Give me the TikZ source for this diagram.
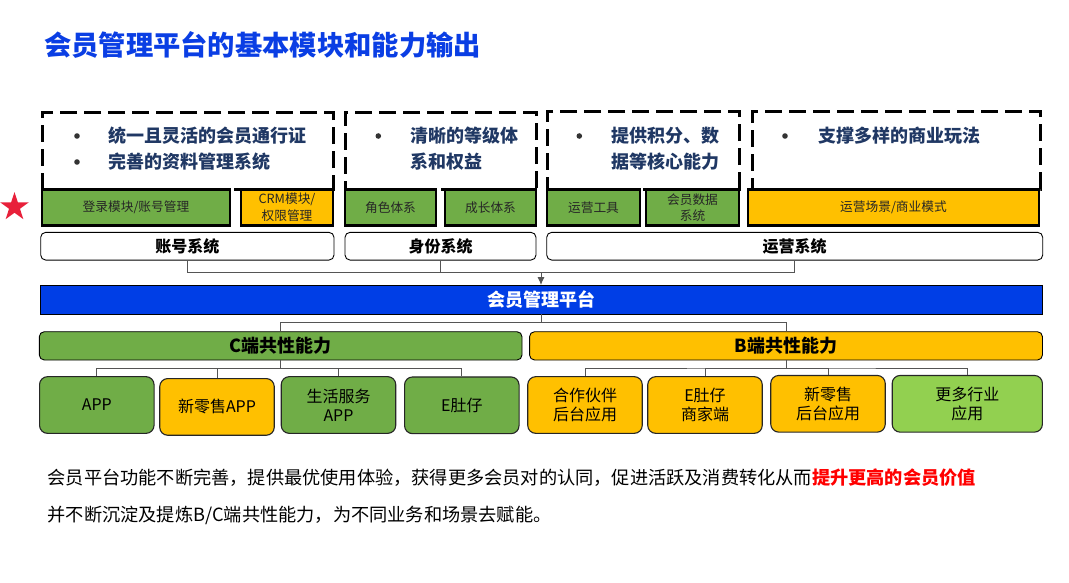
\documentclass[tikz,border=0pt]{standalone}
\usepackage{fontspec}
\setmainfont{Noto Sans CJK SC}
\usetikzlibrary{shapes.geometric,arrows.meta}
\definecolor{tblue}{RGB}{10,62,228}
\definecolor{pblue}{RGB}{0,62,230}
\definecolor{navy}{RGB}{32,56,100}
\definecolor{mgreen}{RGB}{112,173,71}
\definecolor{morange}{RGB}{255,192,0}
\definecolor{lgreen}{RGB}{146,208,80}
\definecolor{starred}{RGB}{232,32,58}
\definecolor{conn}{RGB}{85,85,85}
\tikzset{
 dashbox/.style={draw=black, line width=3pt, dash pattern=on 17pt off 7pt, inner sep=0},
 bultext/.style={anchor=west, inner sep=0, align=left, text=navy, font=\fontsize{18}{26}\selectfont\bfseries},
 bul/.style={fill=black!80},
 modbox/.style={draw=black, line width=2.5pt, inner sep=0, align=center, text=black!85, minimum height=36pt, font=\fontsize{12.7}{16.5}\selectfont},
 sysbox/.style={draw=black, line width=0.9pt, rounded corners=5pt, fill=white, inner sep=0, minimum height=27.7pt, font=\fontsize{16}{19}\selectfont\bfseries},
 platbox/.style={draw=black, line width=0.9pt, fill=pblue, inner sep=0, text=white, minimum height=28.5pt, font=\fontsize{18}{21}\selectfont\bfseries},
 capbox/.style={draw=black, line width=0.9pt, rounded corners=5pt, inner sep=0, minimum height=28.3pt, font=\fontsize{18}{21}\selectfont\bfseries},
 appbox/.style={draw=black!85, line width=1.1pt, rounded corners=8pt, inner sep=0, align=center, minimum width=114.5pt, minimum height=56.7pt, font=\fontsize{16}{19}\selectfont},
 conline/.style={draw=conn, line width=1pt},
 plain/.style={anchor=west, inner sep=0, font=\fontsize{18.2}{22}\selectfont}
}
\begin{document}
\begin{tikzpicture}[x=1pt,y=-1pt]
\useasboundingbox (0,0) rectangle (1069,582);
\fill[white] (0,0) rectangle (1069,582);

% title
\node[anchor=west, inner sep=0, text=tblue, font=\fontsize{27.3}{30}\selectfont\bfseries] (title) at (44,45) {会员管理平台的基本模块和能力输出};

% dashed boxes
\node[dashbox, minimum width=291pt, minimum height=77pt] (d1) at (187.5,150.5) {};
\node[dashbox, minimum width=191pt, minimum height=77pt] (d2) at (440.5,150.5) {};
\node[dashbox, minimum width=192pt, minimum height=78pt] (d3) at (643,150) {};
\node[dashbox, minimum width=288pt, minimum height=77.5pt] (d4) at (896,150.25) {};

\fill[bul] (77,136) circle (2.8pt);
\fill[bul] (77,162) circle (2.8pt);
\node[bultext] (t1) at (108,149) {统一且灵活的会员通行证\\完善的资料管理系统};
\fill[bul] (378.3,136) circle (2.8pt);
\node[bultext] (t2) at (410.7,149) {清晰的等级体\\系和权益};
\fill[bul] (579.3,136) circle (2.8pt);
\node[bultext] (t3) at (611.7,149) {提供积分、数\\据等核心能力};
\fill[bul] (785,136) circle (2.8pt);
\node[bultext] (t4) at (818.3,136) {支撑多样的商业玩法};

% star
\node[star, star points=5, star point ratio=2.618, fill=starred, minimum size=30pt, inner sep=0] (star) at (14.5,207) {};

% modules
\node[modbox, fill=mgreen, minimum width=188pt] (m1) at (136,207.4) {登录模块/账号管理};
\node[modbox, fill=morange, minimum width=92pt] (m2) at (287,207.4) {CRM模块/\\权限管理};
\node[modbox, fill=mgreen, minimum width=91pt] (m3) at (390.5,207.4) {角色体系};
\node[modbox, fill=mgreen, minimum width=91pt] (m4) at (490.5,207.4) {成长体系};
\node[modbox, fill=mgreen, minimum width=93pt] (m5) at (593.5,207.4) {运营工具};
\node[modbox, fill=mgreen, minimum width=93pt] (m6) at (692.5,207.4) {会员数据\\系统};
\node[modbox, fill=morange, minimum width=291pt] (m7) at (893.5,207.4) {运营场景/商业模式};

% systems
\node[sysbox, minimum width=293.3pt] (s1) at (187.35,246.2) {账号系统};
\node[sysbox, minimum width=191pt] (s2) at (440.5,246.2) {身份系统};
\node[sysbox, minimum width=496pt] (s3) at (794.7,246.2) {运营系统};

% platform
\node[platbox, minimum width=1002pt] (plat) at (541,299.75) {会员管理平台};

% capability bars
\node[capbox, fill=mgreen, minimum width=482.7pt] (cbar) at (280.65,345.85) {C端共性能力};
\node[capbox, fill=morange, minimum width=512.9pt] (bbar) at (786,345.85) {B端共性能力};

% application boxes
\node[appbox, fill=mgreen] (c1) at (96.8,405) {APP};
\node[appbox, fill=morange] (c2) at (217,406.9) {新零售APP};
\node[appbox, fill=mgreen] (c3) at (338.5,405) {生活服务\\APP};
\node[appbox, fill=mgreen] (c4) at (461.8,405.3) {E肚仔};
\node[appbox, fill=morange] (b1) at (585,405) {合作伙伴\\后台应用};
\node[appbox, fill=morange] (b2) at (705,405) {E肚仔\\商家端};
\node[appbox, fill=morange] (b3) at (828,403.8) {新零售\\后台应用};
\node[appbox, fill=lgreen, minimum width=150.2pt] (b4) at (967.3,403.8) {更多行业\\应用};

% connectors
\coordinate (j1) at (541,272.7);
\draw[conline] (s1.south) |- (j1) -| (s3.south);
\draw[conline] (s2.south) |- (j1);
\draw[conline, -{Latex[length=8pt,width=7pt]}] (j1) -- (plat.north);

\coordinate (j2) at (541,322.7);
\draw[conline] (plat.south) -- (j2);
\draw[conline] (cbar.north) |- (j2) -| (bbar.north);

\coordinate (j3) at (280.65,368.3);
\draw[conline] (cbar.south) -- (j3);
\draw[conline] (c1.north) |- (j3) -| (c4.north);
\draw[conline] (c2.north) |- (j3);
\draw[conline] (c3.north) |- (j3);

\coordinate (j4) at (786,368);
\draw[conline] (bbar.south) -- (j4);
\draw[conline] (b1.north) |- (j4) -| (b4.north);
\draw[conline] (b2.north) |- (j4);
\draw[conline] (b3.north) |- (j4);

% bottom text
\node[plain] (l1) at (47.5,477.7) {会员平台功能不断完善，提供最优使用体验，获得更多会员对的认同，促进活跃及消费转化从而{\color{red}\bfseries 提升更高的会员价值}};
\node[plain] (l2) at (47.5,515.7) {并不断沉淀及提炼B/C端共性能力，为不同业务和场景去赋能。};
\end{tikzpicture}
\end{document}
